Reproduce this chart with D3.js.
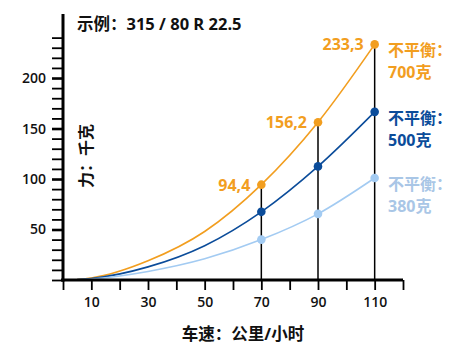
<!DOCTYPE html>
<html><head><meta charset="utf-8">
<script src="https://cdn.jsdelivr.net/npm/d3@7"></script>
<style>
html,body{margin:0;padding:0;background:#fff;}
text{font-family:"Open Sans","Noto Sans CJK SC",sans-serif;}
</style></head>
<body><svg id="c" width="473" height="353"></svg>
<script>
const speeds = [5, 10, 30, 50, 70, 90, 110];
const markedSpeeds = [70, 90, 110];
const force700 = [0.5, 2, 19, 48, 94.4, 156.2, 233.3];
const force500 = [0.4, 1.5, 13, 34, 67.5, 112.5, 166.5];
const force380 = [0.3, 1, 8.5, 21, 40, 65.5, 101];
const seriesNames = ["700克", "500克", "380克"];
const seriesColors = ["#f29e1f", "#0b4c9a", "#a3cbf2"];
const labelColors = ["#f29e1f", "#0b4c9a", "#a9c6e6"];
const valueLabels = ["94,4", "156,2", "233,3"];
const xTickLabels = [10, 30, 50, 70, 90, 110];
const yTickLabels = [50, 100, 150, 200];
const title = "示例：315 / 80 R 22.5";
const xTitle = "车速：公里/小时";
const yTitle = "力：千克";
const unbalance = "不平衡：";

const svg = d3.select("#c");
const x = d3.scaleLinear().domain([0, 120]).range([63, 403]);
const y = d3.scaleLinear().domain([0, 263.4]).range([280, 14]);
const all = [force700, force500, force380];

// vertical guide lines
svg.append("g").selectAll("line").data(markedSpeeds).join("line")
  .attr("x1", d => x(d)).attr("x2", d => x(d))
  .attr("y1", (d, i) => y(force700[speeds.indexOf(d)])).attr("y2", y(0))
  .attr("stroke", "#000").attr("stroke-width", 1.5);

// curves
const line = d3.line().x((d, i) => x(speeds[i])).y(d => y(d)).curve(d3.curveMonotoneX);
all.forEach((s, k) => {
  svg.append("path").attr("d", line(s)).attr("fill", "none")
    .attr("stroke", seriesColors[k]).attr("stroke-width", 1.6);
  svg.append("g").selectAll("circle").data(markedSpeeds).join("circle")
    .attr("cx", d => x(d)).attr("cy", d => y(s[speeds.indexOf(d)]))
    .attr("r", 4.3).attr("fill", seriesColors[k]);
});

// axes
const yAxis = d3.axisLeft(y).tickValues(d3.range(0, 241, 10)).tickSize(11).tickPadding(6)
  .tickFormat(d => yTickLabels.includes(d) ? d : "");
const gy = svg.append("g").attr("transform", `translate(${x(0)},0)`).call(yAxis);
gy.select(".domain").attr("stroke-width", 3).attr("d", `M0,${y(263.4)}V${y(0) + 1.5}`);
gy.selectAll(".tick line").attr("stroke-width", d => yTickLabels.includes(d) ? 2.6 : 1.8);
gy.selectAll(".tick text").attr("font-size", 14).attr("font-weight", 600).attr("fill", "#111");

const xAxis = d3.axisBottom(x).tickValues(d3.range(0, 121, 10)).tickSize(10).tickPadding(7)
  .tickFormat(d => xTickLabels.includes(d) ? d : "");
const gx = svg.append("g").attr("transform", `translate(0,${y(0)})`).call(xAxis);
gx.select(".domain").attr("stroke-width", 3).attr("d", `M${x(0) - 2},0H${x(120)}`);
gx.selectAll(".tick line").attr("stroke-width", 1.8);
gx.selectAll(".tick text").attr("font-size", 14).attr("font-weight", 600).attr("fill", "#111");

// value labels for 700
svg.append("g").selectAll("text").data(markedSpeeds).join("text")
  .attr("x", d => x(d) - 11).attr("y", d => y(force700[speeds.indexOf(d)]) + 6)
  .attr("text-anchor", "end").attr("font-size", 16).attr("font-weight", 700)
  .attr("fill", seriesColors[0]).text((d, i) => valueLabels[i]);

// series labels
all.forEach((s, k) => {
  const yy = y(s[s.length - 1]);
  const t = svg.append("text").attr("x", 388).attr("font-size", 16).attr("font-weight", 700)
    .attr("fill", labelColors[k]);
  t.append("tspan").attr("x", 388).attr("y", yy + 12).text(unbalance);
  t.append("tspan").attr("x", 388).attr("y", yy + 34).text(seriesNames[k]);
});

// titles
svg.append("text").attr("x", 77).attr("y", 30).attr("font-size", 16.5).attr("font-weight", 700)
  .attr("fill", "#111").text(title);
svg.append("text").attr("transform", "translate(92,156) rotate(-90)").attr("text-anchor", "middle")
  .attr("font-size", 16).attr("font-weight", 700).attr("fill", "#111").text(yTitle);
svg.append("text").attr("x", 243).attr("y", 340).attr("text-anchor", "middle")
  .attr("font-size", 16.5).attr("font-weight", 700).attr("fill", "#111").text(xTitle);
</script></body></html>
